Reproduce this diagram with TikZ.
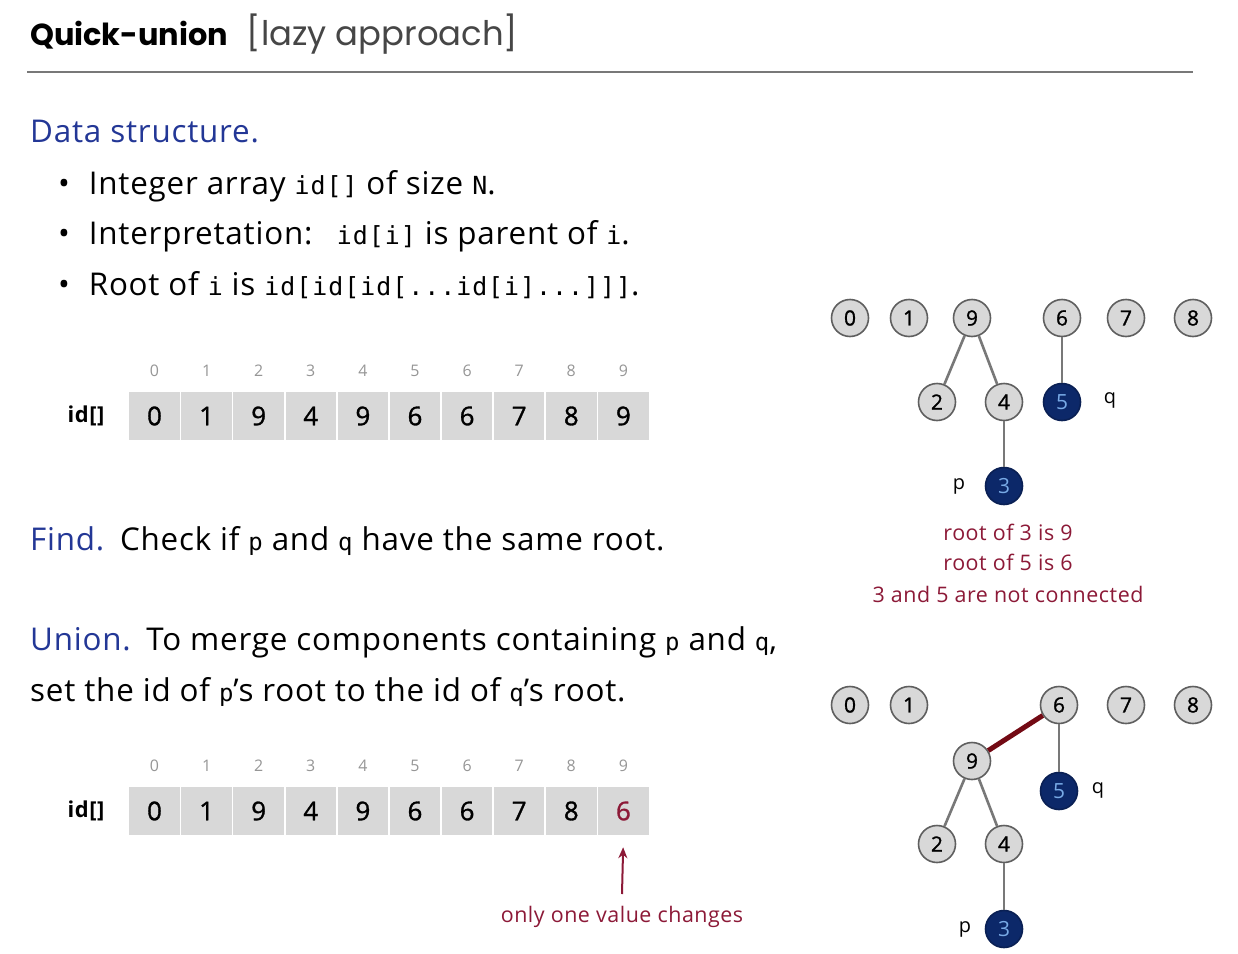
\documentclass[tikz,border=0pt]{standalone}
\usepackage{fontspec}
\setmainfont{Open Sans}[LetterSpace=2.5]
\newfontfamily\titlefont{Poppins}
\newfontfamily\digitfont{Open Sans}[FakeBold=1.2]
\setmonofont{DejaVu Sans Mono}[LetterSpace=4]
\usetikzlibrary{arrows.meta}
\definecolor{hblue}{RGB}{35,55,150}
\definecolor{dred}{RGB}{140,25,55}
\definecolor{edgered}{RGB}{115,10,20}
\definecolor{cellgray}{RGB}{216,216,216}
\definecolor{navy}{RGB}{12,40,105}
\definecolor{nodelb}{RGB}{120,170,230}
\definecolor{idxgray}{RGB}{150,150,150}
\definecolor{rulegray}{RGB}{120,120,120}
\definecolor{ringgray}{RGB}{95,95,95}
\definecolor{edgegray}{RGB}{120,120,120}
\definecolor{ttlgray}{RGB}{70,70,70}
\newcommand{\cd}[1]{{\ttfamily\fontsize{25}{30}\selectfont #1}}
\newcommand{\cv}[1]{{\ttfamily\fontsize{24}{30}\selectfont #1}}
\begin{document}
\begin{tikzpicture}[x=1bp,y=-1bp,
  txt/.style={anchor=base west,inner sep=0pt,font=\fontsize{31.5}{36}\selectfont},
  ttl/.style={anchor=base west,inner sep=0pt,font=\titlefont\fontsize{34}{36}\selectfont},
  cell/.style={minimum width=52bp,minimum height=49bp,fill=cellgray,draw=white,line width=1.5bp,inner sep=0pt,font=\digitfont\fontsize{26}{30}\selectfont},
  idx/.style={inner sep=0pt,text=idxgray,font=\fontsize{16}{20}\selectfont},
  arrlbl/.style={inner sep=0pt,font=\bfseries\fontsize{22}{28}\selectfont},
  tn/.style={circle,minimum size=37bp,inner sep=0pt,fill=cellgray,draw=ringgray,line width=1.6bp,font=\digitfont\fontsize{21}{24}\selectfont},
  bn/.style={circle,minimum size=37bp,inner sep=0pt,fill=navy,draw=navy!80!black,line width=1.6bp,text=nodelb,font=\fontsize{21}{24}\selectfont},
  pq/.style={inner sep=0pt,font=\fontsize{20}{24}\selectfont},
  edge/.style={draw=edgegray,line width=2.6bp},
  note/.style={inner sep=0pt,text=dred,font=\fontsize{21.5}{25}\selectfont},
]
\fill[white] (0,0) rectangle (1238,954);
\useasboundingbox (0,0) rectangle (1238,954);

% title
\node[ttl] (title) at (30,45) {{\bfseries\fontsize{30.5}{36}\selectfont Quick-union}\hspace{0.55em}\textcolor{ttlgray}{[lazy approach]}};
\draw[rulegray,line width=2bp] (27,72) -- (1193,72);

% data structure
\node[txt,text=hblue] (ds) at (30,142) {Data structure.};
\node[txt] (b1) at (58,194) {\textbullet\hspace{0.6em}Integer array \cd{id[]} of size \cd{N}.};
\node[txt] (b2) at (58,244) {\textbullet\hspace{0.6em}Interpretation:\hspace{0.4em} \cd{id[i]} is parent of \cd{i}.};
\node[txt] (b3) at (58,295) {\textbullet\hspace{0.6em}Root of \cd{i} is \cd{id[id[id[...id[i]...]]]}.};

% array 1
\node[arrlbl] (lbl1) at (86,416) {id[]};
\foreach \v [count=\i from 0] in {0,1,9,4,9,6,6,7,8,9} {
  \node[cell] (a\i) at ({154.5+52.1*\i},416) {\v};
  \node[idx] (ai\i) at ({154.5+52.1*\i},371) {\i};
}

% find / union
\node[txt] (find) at (30,550) {\textcolor{hblue}{Find.}\hspace{0.5em}Check if \cv{p} and \cv{q} have the same root.};
\node[txt] (union1) at (30,650) {\textcolor{hblue}{Union.}\hspace{0.5em}To merge components containing \cv{p} and \cv{q},};
\node[txt] (union2) at (30,701) {set the id of \cv{p}'s root to the id of \cv{q}'s root.};

% array 2
\node[arrlbl] (lbl2) at (86,811) {id[]};
\foreach \v [count=\i from 0] in {0,1,9,4,9,6,6,7,8} {
  \node[cell] (b\i) at ({154.5+52.1*\i},811) {\v};
  \node[idx] (bi\i) at ({154.5+52.1*\i},766) {\i};
}
\node[cell,text=dred] (b9) at ({154.5+52.1*9},811) {6};
\node[idx] (bi9) at ({154.5+52.1*9},766) {9};
\node[note] (chg) at (622,917) {only one value changes};
\coordinate (arrs) at (622,894);
\draw[dred,line width=2bp,-{Stealth[length=11bp,width=9bp]},shorten >=11bp] (arrs) -- (b9.south);

% tree 1
\node[tn] (s0) at (850,318) {0};
\node[tn] (s1) at (909,318) {1};
\node[tn] (s9) at (972,318) {9};
\node[tn] (s6) at (1062,318) {6};
\node[tn] (s7) at (1126,318) {7};
\node[tn] (s8) at (1193,318) {8};
\node[tn] (s2) at (937,402) {2};
\node[tn] (s4) at (1004,402) {4};
\node[bn] (s5) at (1062,402) {5};
\node[bn] (s3) at (1004,486) {3};
\node[pq] (sq) at (1110,400) {q};
\node[pq] (sp) at (959,486) {p};
\draw[edge] (s9) -- (s2);
\draw[edge] (s9) -- (s4);
\draw[edge] (s6) -- (s5);
\draw[edge] (s4) -- (s3);
\node[note] (r1) at (1008,532) {root of 3 is 9};
\node[note] (r2) at (1008,562) {root of 5 is 6};
\node[note] (r3) at (1008,594) {3 and 5 are not connected};

% tree 2
\node[tn] (u0) at (850,705) {0};
\node[tn] (u1) at (909,705) {1};
\node[tn] (u6) at (1059,705) {6};
\node[tn] (u7) at (1126,705) {7};
\node[tn] (u8) at (1193,705) {8};
\node[tn] (u9) at (972,761) {9};
\node[bn] (u5) at (1059,791) {5};
\node[tn] (u2) at (937,844) {2};
\node[tn] (u4) at (1004,844) {4};
\node[bn] (u3) at (1004,929) {3};
\node[pq] (uq) at (1098,790) {q};
\node[pq] (up) at (965,929) {p};
\draw[edgered,line width=5bp] (u9) -- (u6);
\draw[edge] (u6) -- (u5);
\draw[edge] (u9) -- (u2);
\draw[edge] (u9) -- (u4);
\draw[edge] (u4) -- (u3);
\end{tikzpicture}
\end{document}
